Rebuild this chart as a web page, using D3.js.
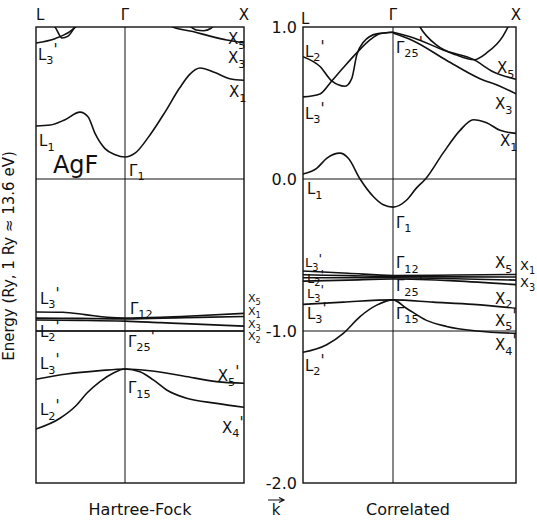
<!DOCTYPE html>
<html lang="en">
<head>
  <meta charset="UTF-8">
  <title>AgF band structure</title>
  <script src="https://cdn.jsdelivr.net/npm/d3@7"></script>
  <style>
    body { margin: 0; background: #fff; }
    svg text {
      font-family: "DejaVu Sans", sans-serif;
      fill: #111;
    }
    .band { fill: none; stroke: #111; stroke-width: 1.6; }
    .frame { fill: none; stroke: #111; stroke-width: 1.4; }
    .grid { stroke: #111; stroke-width: 1; }
  </style>
</head>
<body>
<script>
  // ---- Hartree-Fock bands: [k, E(Ry)], k = -1 at L, 0 at Gamma, 1 at X
  var hfGamma1  = [[-1,0.349],[-0.84,0.355],[-0.674,0.39],[-0.506,0.44],[-0.416,0.41],[-0.337,0.30],[-0.225,0.20],[-0.11,0.16],[0,0.145],[0.084,0.17],[0.21,0.29],[0.336,0.44],[0.46,0.60],[0.546,0.69],[0.63,0.73],[0.756,0.70],[0.88,0.66],[1,0.65]];
  var hfUpperL  = [[-1,0.895],[-0.78,0.925],[-0.62,0.97],[-0.5,1.03]];
  var hfLoopL   = [[-0.83,1.02],[-0.787,1.0],[-0.708,0.928],[-0.64,0.94],[-0.562,1.0],[-0.52,1.03]];
  var hfUpperX  = [[0.38,1.02],[0.403,1.0],[0.57,0.97],[0.714,0.94],[0.855,0.914],[1,0.895]];
  var hfLensX   = [[0.54,1.01],[0.6,0.98],[0.66,0.975],[0.72,0.99],[0.75,1.01]];
  var hfD1      = [[-1,-0.875],[-0.7,-0.877],[-0.45,-0.892],[-0.2,-0.91],[0,-0.915],[0.3,-0.91],[0.6,-0.9],[1,-0.884]];
  var hfD2      = [[-1,-0.915],[-0.5,-0.917],[0,-0.92],[0.5,-0.912],[1,-0.905]];
  var hfD3      = [[-1,-0.928],[-0.5,-0.93],[0,-0.935],[0.3,-0.945],[0.6,-0.955],[1,-0.968]];
  var hfD4      = [[-1,-1.0],[0,-1.0],[1,-1.0]];
  var hfL3low   = [[-1,-1.318],[-0.655,-1.283],[-0.281,-1.261],[0,-1.25],[0.21,-1.261],[0.49,-1.296],[0.77,-1.333],[1,-1.344]];
  var hfL2low   = [[-1,-1.645],[-0.73,-1.574],[-0.543,-1.487],[-0.43,-1.41],[-0.281,-1.333],[-0.135,-1.278],[0,-1.25],[0.126,-1.268],[0.238,-1.322],[0.35,-1.388],[0.518,-1.443],[0.77,-1.476],[1,-1.502]];

  // ---- Correlated bands
  var coGamma1  = [[-1,0.033],[-0.848,0.07],[-0.737,0.136],[-0.589,0.17],[-0.496,0.136],[-0.366,0],[-0.219,-0.115],[-0.107,-0.17],[0,-0.185],[0.109,-0.14],[0.19,-0.06],[0.264,0],[0.407,0.17],[0.545,0.32],[0.653,0.39],[0.761,0.37],[0.87,0.32],[1,0.30]];
  var coL2up    = [[-1,0.805],[-0.811,0.74],[-0.681,0.645],[-0.533,0.61],[-0.459,0.66],[-0.403,0.815],[-0.33,0.90],[-0.181,0.955],[0,0.965]];
  var coL3up    = [[-1,0.54],[-0.811,0.56],[-0.681,0.645],[-0.556,0.73],[-0.403,0.83],[-0.256,0.915],[-0.144,0.955],[0,0.965]];
  var coX5up    = [[0,0.965],[0.163,0.93],[0.437,0.84],[0.653,0.787],[0.813,0.706],[1,0.656]];
  var coX3up    = [[0,0.96],[0.163,0.91],[0.437,0.78],[0.707,0.66],[0.87,0.61],[1,0.56]];
  var coVband   = [[0.2,1.03],[0.22,1.0],[0.355,0.88],[0.518,0.815],[0.66,0.785],[0.762,0.83],[0.894,0.94],[0.935,1.0],[0.96,1.04]];
  var coD1      = [[-1,-0.605],[-0.5,-0.62],[0,-0.635],[0.5,-0.632],[1,-0.628]];
  var coD2      = [[-1,-0.63],[-0.5,-0.636],[0,-0.642],[0.5,-0.644],[1,-0.645]];
  var coD3      = [[-1,-0.65],[-0.5,-0.65],[0,-0.65],[0.5,-0.656],[1,-0.665]];
  var coD4      = [[-1,-0.672],[-0.5,-0.665],[0,-0.658],[0.5,-0.67],[1,-0.695]];
  var coL3low   = [[-1,-0.825],[-0.552,-0.81],[0,-0.795],[0.327,-0.81],[0.653,-0.825],[1,-0.85]];
  var coL2low   = [[-1,-1.14],[-0.737,-1.09],[-0.552,-1.015],[-0.366,-0.905],[-0.181,-0.83],[0,-0.795],[0.109,-0.85],[0.272,-0.93],[0.435,-0.97],[0.679,-1.0],[1,-1.015]];

  // ---- labels: [text, k, E]
  var hfLabels = [["L3′",-0.978,0.783],["X5",0.866,0.888],["X3",0.866,0.763],["X1",0.874,0.539],
                  ["L1",-0.966,0.217],["Γ1",0.034,0.02],["L3′",-0.955,-0.822],["Γ12",0.042,-0.888],
                  ["L2′",-0.955,-1.039],["Γ25′",0.025,-1.105],["L3′",-0.955,-1.25],["X5′",0.78,-1.329],
                  ["Γ15",0.025,-1.408],["L2′",-0.955,-1.553],["X4′",0.815,-1.671]];
  var hfEdgeLabels = [["X5",1.034,-0.81],["X1",1.034,-0.895],["X3",1.034,-0.98],["X2",1.034,-1.06]];
  var coLabels = [["L2′",-0.978,0.803],["L3′",-0.978,0.395],["Γ25′",0.024,0.829],["X5",0.846,0.697],
                  ["X3",0.829,0.46],["X1",0.87,0.217],["L1",-0.956,-0.099],["Γ1",0.024,-0.322],
                  ["Γ12",0.024,-0.586],["X5",0.829,-0.586],["Γ25′",0.024,-0.737],["X2",0.829,-0.822],
                  ["L3′",-0.956,-0.921],["Γ15",0.024,-0.921],["X5′",0.829,-0.967],["X4′",0.829,-1.125],
                  ["L2′",-0.978,-1.263]];
  var coTightLabels = [["L3′",-0.978,-0.579],["L2′",-0.956,-0.681],["L3′",-0.956,-0.781]];
  var coEdgeLabels = [["X1",1.033,-0.599],["X3",1.033,-0.711]];

  var yTicks = [1, 0, -1, -2];
  var symPoints = ["L", "Γ", "X"];

  var width = 537, height = 520;

  var svg = d3.select("body").append("svg")
      .attr("width", width)
      .attr("height", height);

  var y = d3.scaleLinear().domain([-2, 1]).range([483, 27]);

  var panels = [
    { id: "hf", xr: [36, 125, 244], title: "Hartree-Fock", titleX: 140,
      bands: [hfGamma1, hfUpperL, hfLoopL, hfUpperX, hfLensX, hfD1, hfD2, hfD3, hfD4, hfL3low, hfL2low],
      labels: hfLabels, tight: [], edge: hfEdgeLabels, edgeSize: 11 },
    { id: "co", xr: [303, 393, 516], title: "Correlated", titleX: 408,
      bands: [coGamma1, coL2up, coL3up, coX5up, coX3up, coVband, coD1, coD2, coD3, coD4, coL3low, coL2low],
      labels: coLabels, tight: coTightLabels, edge: coEdgeLabels, edgeSize: 13 }
  ];

  // label like "Γ25′" -> main letter, subscript, raised prime
  function drawLabel(g, txt, px, py, size) {
    var m = txt.match(/^(\D)(\d*)(′?)$/);
    var t = g.append("text").attr("x", px).attr("y", py).style("font-size", size + "px");
    t.append("tspan").text(m[1]);
    if (m[2]) t.append("tspan").attr("dy", size * 0.3).style("font-size", (size * 0.75) + "px").text(m[2]);
    if (m[3]) t.append("tspan").attr("dy", m[2] ? -size * 0.6 : -size * 0.3).text("'");
  }

  panels.forEach(function(p) {
    var x = d3.scaleLinear().domain([-1, 0, 1]).range(p.xr);
    var g = svg.append("g");

    g.append("clipPath").attr("id", "clip-" + p.id)
      .append("rect")
      .attr("x", x(-1)).attr("y", y(1))
      .attr("width", x(1) - x(-1)).attr("height", y(-2) - y(1));

    // reference lines at 0 and -1 Ry, and the Gamma line
    g.selectAll("line.grid").data([0, -1]).enter().append("line")
      .attr("class", "grid")
      .attr("x1", x(-1)).attr("x2", x(1))
      .attr("y1", function(d) { return y(d); })
      .attr("y2", function(d) { return y(d); });
    g.append("line").attr("class", "grid")
      .attr("x1", x(0)).attr("x2", x(0))
      .attr("y1", y(1)).attr("y2", y(-2));

    var line = d3.line()
      .x(function(d) { return x(d[0]); })
      .y(function(d) { return y(d[1]); })
      .curve(d3.curveMonotoneX);

    g.append("g").attr("clip-path", "url(#clip-" + p.id + ")")
      .selectAll("path").data(p.bands).enter().append("path")
      .attr("class", "band")
      .attr("d", line);

    g.append("rect").attr("class", "frame")
      .attr("x", x(-1)).attr("y", y(1))
      .attr("width", x(1) - x(-1)).attr("height", y(-2) - y(1));

    // symmetry points on top
    g.selectAll("text.sym").data(symPoints).enter().append("text")
      .attr("class", "sym")
      .attr("x", function(d, i) { return x(i - 1) + (i == 0 ? (p.id == "co" ? -2 : 0) : 0); })
      .attr("y", function(d, i) { return (i == 0 && p.id == "co") ? 24 : 20; })
      .attr("text-anchor", function(d, i) { return i == 0 ? "start" : "middle"; })
      .style("font-size", "15px")
      .text(function(d) { return d; });

    p.labels.forEach(function(l) { drawLabel(g, l[0], x(l[1]), y(l[2]), 15); });
    p.tight.forEach(function(l) { drawLabel(g, l[0], x(l[1]), y(l[2]), 13); });
    p.edge.forEach(function(l) { drawLabel(g, l[0], x(l[1]), y(l[2]), p.edgeSize); });

    g.append("text")
      .attr("x", p.titleX).attr("y", 515)
      .attr("text-anchor", "middle")
      .style("font-size", "16px")
      .text(p.title);

    if (p.id == "hf") {
      g.append("text").attr("x", x(-0.81)).attr("y", y(0.04))
        .style("font-size", "24px").text("AgF");
    } else {
      var axis = d3.axisLeft(y).tickValues(yTicks).tickSize(0).tickPadding(6)
        .tickFormat(function(d) { return d.toFixed(1); });
      var ax = g.append("g").attr("transform", "translate(" + x(-1) + ",0)").call(axis);
      ax.select(".domain").remove();
      ax.selectAll("text").style("font-size", "16px")
        .style("font-family", "'DejaVu Sans', sans-serif").attr("fill", "#111");
    }
  });

  // y axis title
  svg.append("text")
    .attr("transform", "translate(14,256) rotate(-90)")
    .attr("text-anchor", "middle")
    .style("font-size", "15px")
    .text("Energy (Ry, 1 Ry ≈ 13.6 eV)");

  // k arrow
  svg.append("path").attr("d", "M268,500 L284,500 M279,497.5 L284,500 L279,502.5")
    .attr("fill", "none").attr("stroke", "#111").attr("stroke-width", 1.2);
  svg.append("text").attr("x", 276).attr("y", 515).attr("text-anchor", "middle")
    .style("font-size", "15px").text("k");
</script>
</body>
</html>
